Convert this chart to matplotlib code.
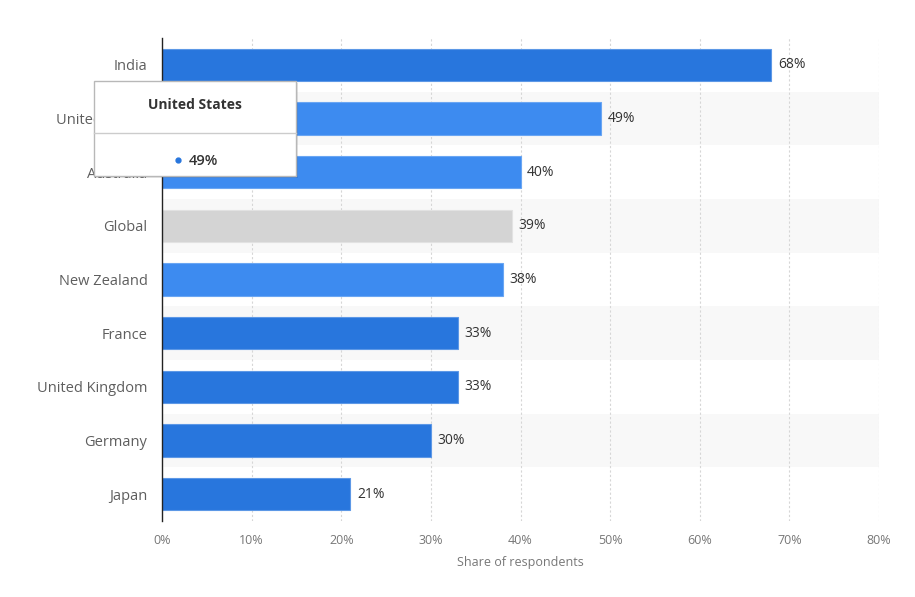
import matplotlib
matplotlib.use("Agg")
import matplotlib.pyplot as plt
from matplotlib.patches import Rectangle
from matplotlib.lines import Line2D

categories = ["India", "United States", "Australia", "Global", "New Zealand",
              "France", "United Kingdom", "Germany", "Japan"]
values = [68, 49, 40, 39, 38, 33, 33, 30, 21]
bar_colors = ["#2876dd", "#3d8bf0", "#3d8bf0", "#d4d4d4", "#3d8bf0",
              "#2876dd", "#2876dd", "#2876dd", "#2876dd"]
edge_colors = ["#5d98e6", "#6aa6f3", "#6aa6f3", "#e2e2e2", "#6aa6f3",
               "#5d98e6", "#5d98e6", "#5d98e6", "#5d98e6"]
xticks = [0, 10, 20, 30, 40, 50, 60, 70, 80]
xtick_labels = [f"{t}%" for t in xticks]
tooltip_title = "United States"
tooltip_value = "49%"

plt.rcParams['font.family'] = ['Open Sans', 'DejaVu Sans']

W, H = 915, 597
fig = plt.figure(figsize=(W / 100, H / 100), dpi=100)
ax = fig.add_axes([162 / W, 1 - 521 / H, (879 - 162) / W, (521 - 38) / H])

n = len(categories)
ypos = list(range(n))

# alternating bands
for i in ypos:
    if i % 2 == 1:
        ax.add_patch(Rectangle((0, i - 0.5), 80, 1, facecolor="#f8f8f8",
                               edgecolor="none", zorder=0))

for t in xticks[1:]:
    ax.axvline(t, color="#d6d6d6", linestyle=(0, (2, 2)), linewidth=0.8, zorder=1)

ax.barh(ypos, values, height=0.6, color=bar_colors, edgecolor=edge_colors,
        linewidth=0.8, zorder=2)
for y, v in zip(ypos, values):
    ax.text(v + 0.75, y, f"{v}%", va="center", ha="left", fontsize=10,
            color="#333333", fontweight="normal", zorder=3)

ax.set_xlim(0, 80)
ax.set_ylim(n - 0.5, -0.5)
ax.set_yticks(ypos)
ax.set_yticklabels(categories, fontsize=10.5, color="#5e5e5e", fontweight="normal")
ax.set_xticks(xticks)
ax.set_xticklabels(xtick_labels, fontsize=9, color="#777777", fontweight="normal")
ax.tick_params(axis="y", length=0, pad=10.5)
ax.tick_params(axis="x", length=0, pad=9.5)
ax.set_xlabel("Share of respondents", fontsize=9, color="#777777", labelpad=6,
              fontweight="normal")

for s in ["top", "right", "bottom"]:
    ax.spines[s].set_visible(False)
ax.spines["left"].set_color("#222222")
ax.spines["left"].set_linewidth(1.0)
ax.spines["left"].set_zorder(4)

# tooltip
x0, x1, yt, yb = 94, 296, 81, 176
shadow = Rectangle(((x0 + 2) / W, 1 - (yb + 2) / H), (x1 - x0) / W, (yb - yt) / H,
                   transform=fig.transFigure, facecolor="#00000018", edgecolor="none",
                   zorder=9)
fig.add_artist(shadow)
box = Rectangle((x0 / W, 1 - yb / H), (x1 - x0) / W, (yb - yt) / H,
                transform=fig.transFigure, facecolor="white", edgecolor="#b8b8b8",
                linewidth=1.0, zorder=10)
fig.add_artist(box)
fig.add_artist(Line2D([x0 / W, x1 / W], [1 - 133 / H, 1 - 133 / H],
                      transform=fig.transFigure, color="#cccccc", linewidth=1.0, zorder=11))
fig.text((x0 + x1) / 2 / W, 1 - 105 / H, tooltip_title, ha="center", va="center",
         fontsize=10, fontweight="bold", color="#333333", zorder=12)
fig.add_artist(Line2D([178 / W], [1 - 160 / H], marker="o", markersize=3.5,
                      color="#2876dd", transform=fig.transFigure, zorder=12))
fig.text(189 / W, 1 - 161 / H, tooltip_value, ha="left", va="center",
         fontsize=10.5, fontweight="semibold", color="#333333", zorder=12)

fig.savefig("out.png", dpi=100, facecolor="white")
